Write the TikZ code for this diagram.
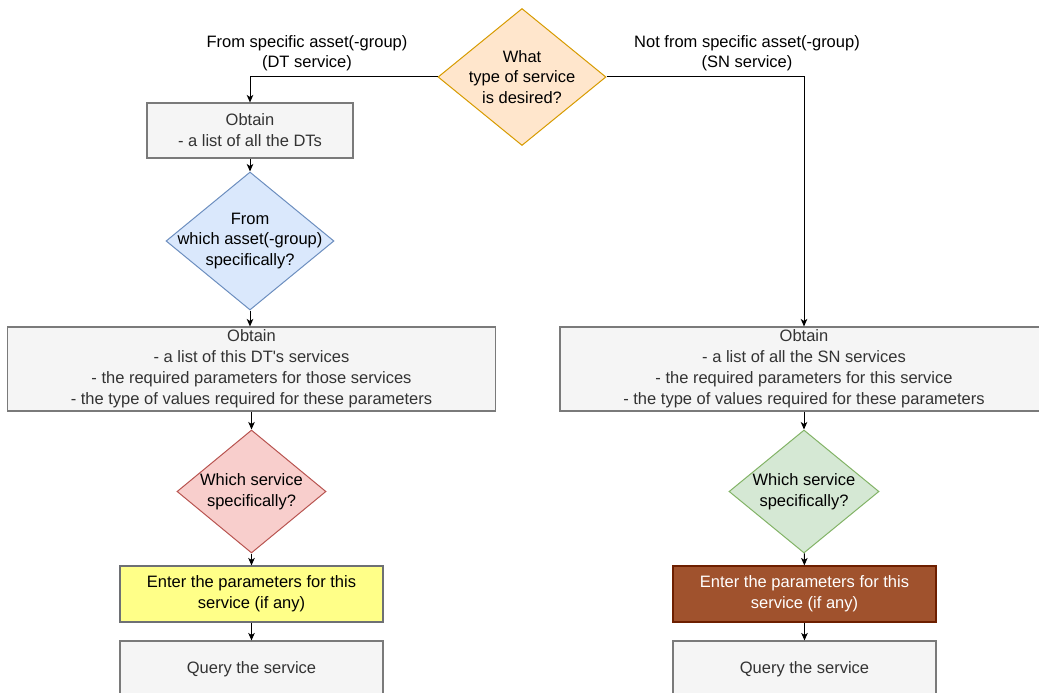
\documentclass[tikz,border=0pt]{standalone}
\usepackage{fontspec}
\setmainfont{Liberation Sans}
\usetikzlibrary{shapes.geometric,arrows.meta}
\definecolor{orfill}{HTML}{FFE6CC}\definecolor{ordraw}{HTML}{D79B00}
\definecolor{blfill}{HTML}{DAE8FC}\definecolor{bldraw}{HTML}{6C8EBF}
\definecolor{rdfill}{HTML}{F8CECC}\definecolor{rddraw}{HTML}{B85450}
\definecolor{grfill}{HTML}{D5E8D4}\definecolor{grdraw}{HTML}{82B366}
\definecolor{gyfill}{HTML}{F5F5F5}\definecolor{gydraw}{HTML}{7A7A7A}\definecolor{gytext}{HTML}{333333}
\definecolor{yefill}{HTML}{FFFF88}\definecolor{yedraw}{HTML}{6E7074}
\definecolor{brfill}{HTML}{A0522D}\definecolor{brdraw}{HTML}{6D1F00}
\tikzset{
  txt/.style={font=\fontsize{16.5}{20.5}\selectfont, align=center, inner sep=0pt},
  dia/.style={diamond, draw, line width=1pt, inner sep=0pt},
  box/.style={rectangle, draw, line width=1.1pt, inner sep=0pt, align=center, font=\fontsize{16.5}{21}\selectfont},
  graybox/.style={box, fill=gyfill, draw=gydraw, text=gytext},
  conn/.style={line width=1pt, draw=black, -{Stealth[length=7.5pt,width=6.5pt,inset=2pt]}}
}
\begin{document}
\begin{tikzpicture}[x=1pt,y=-1pt]
\useasboundingbox (0,0) rectangle (1039,693);
\clip (0,0) rectangle (1039,693);
% top decision
\node[dia, fill=orfill, draw=ordraw, minimum width=168, minimum height=137] (d1) at (522,77) {};
\node[txt] (d1t) at (522,77) {What\\type of service\\is desired?};
% left column
\node[graybox, minimum width=206, minimum height=55] (b1) at (250,130.5) {Obtain\\- a list of all the DTs};
\node[dia, fill=blfill, draw=bldraw, minimum width=168, minimum height=138] (d2) at (250,241) {};
\node[txt] (d2t) at (250,241) {From\\which asset(-group)\\specifically?};
\node[graybox, minimum width=488, minimum height=84] (b2) at (251.5,369) {Obtain\\- a list of this DT\textquotesingle s services\\- the required parameters for those services\\- the type of values required for these parameters};
\node[dia, fill=rdfill, draw=rddraw, minimum width=149, minimum height=123] (d3) at (251.5,491.5) {};
\node[txt] (d3t) at (251.5,491.5) {Which service\\specifically?};
\node[box, fill=yefill, draw=yedraw, minimum width=263, minimum height=56] (b3) at (251.5,594) {Enter the parameters for this\\service (if any)};
\node[graybox, minimum width=263, minimum height=56] (b4) at (251.5,669) {Query the service};
% right column
\node[graybox, minimum width=488, minimum height=84] (c2) at (804,369) {Obtain\\- a list of all the SN services\\- the required parameters for this service\\- the type of values required for these parameters};
\node[dia, fill=grfill, draw=grdraw, minimum width=150, minimum height=123] (e3) at (804,491.5) {};
\node[txt] (e3t) at (804,491.5) {Which service\\specifically?};
\node[box, fill=brfill, draw=brdraw, text=white, minimum width=263, minimum height=56] (c3) at (804.5,594) {Enter the parameters for this\\service (if any)};
\node[graybox, minimum width=263, minimum height=56] (c4) at (804.5,669) {Query the service};
% edge labels
\node[txt] (l1) at (307,53) {From specific asset(-group)\\(DT service)};
\node[txt] (l2) at (747,53) {Not from specific asset(-group)\\(SN service)};
% connectors
\draw[conn] (d1.west) -| (b1.north);
\draw[conn] (d1.east) -| (c2.north);
\draw[conn] (b1) -- (d2);
\draw[conn] (d2.south) -- (d2.south |- b2.north);
\draw[conn] (b2.south -| d3.north) -- (d3.north);
\draw[conn] (d3) -- (b3);
\draw[conn] (b3) -- (b4);
\draw[conn] (c2.south -| e3.north) -- (e3.north);
\draw[conn] (e3) -- (c3);
\draw[conn] (c3) -- (c4);
\end{tikzpicture}
\end{document}
